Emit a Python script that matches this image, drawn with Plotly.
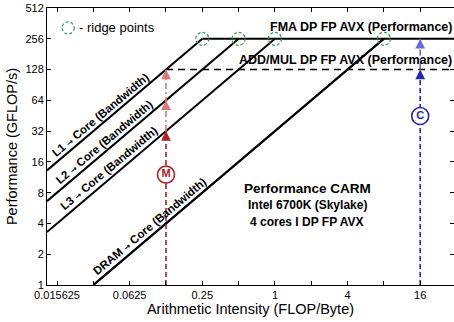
import math
import plotly.graph_objects as go

# ---- data ----
peak_fma = 256.0
peak_addmul = 128.0
bw_names = ["L1", "L2", "L3", "DRAM"]
bandwidths = [1024.0, 512.0, 256.0, 32.0]       # GB/s (slope of the roofs)
label_x = [0.037, 0.040, 0.044, 0.096]           # where the bandwidth labels sit
x_min, x_max = 0.0129, 30.5
y_min, y_max = 1.0, 512.0
x_tickvals = [2.0 ** k for k in range(-6, 5)]
x_ticktext = ["0.015625", "", "0.0625", "", "0.25", "", "1", "", "4", "", "16"]
y_tickvals = [2.0 ** k for k in range(0, 10)]
y_ticktext = [str(int(v)) for v in y_tickvals]
m_x, m_circle_y, m_arrow_ys = 0.125, 12.0, [32.0, 64.0, 128.0]
c_x, c_circle_y, c_arrow_ys = 16.0, 45.0, [128.0, 256.0]

FONT = "Liberation Sans Narrow, Arial Narrow, Liberation Sans, Arial, sans-serif"
REG = "Liberation Sans, Arial, sans-serif"
DARKRED, LIGHTRED = "#a8232a", "#d9777a"
DARKBLUE, LIGHTBLUE = "#2626b0", "#6b6bd6"
GREEN = "#3a9a5b"

LX0, LX1 = math.log10(x_min), math.log10(x_max)
LY0, LY1 = math.log10(y_min), math.log10(y_max)


def x_dom(v):
    return (math.log10(v) - LX0) / (LX1 - LX0)


def y_dom(v):
    return (math.log10(v) - LY0) / (LY1 - LY0)


fig = go.Figure()

ridges = []
for name, bw in zip(bw_names, bandwidths):
    xr = peak_fma / bw
    ridges.append(xr)
    x0 = max(x_min, y_min / bw)
    fig.add_trace(go.Scatter(x=[x0, xr], y=[bw * x0, peak_fma], mode="lines",
                             line=dict(color="black", width=2), hoverinfo="skip"))

# ADD/MUL roof (dashed)
x_addmul = peak_addmul / bandwidths[0]
fig.add_trace(go.Scatter(x=[x_addmul, x_max], y=[peak_addmul, peak_addmul], mode="lines",
                         line=dict(color="black", width=1.4, dash="7px,5px"), hoverinfo="skip"))
# FMA roof
fig.add_trace(go.Scatter(x=[ridges[0], x_max], y=[peak_fma, peak_fma], mode="lines",
                         line=dict(color="black", width=2), hoverinfo="skip"))
# redraw DRAM on top of dashed roof (as in reference)
fig.add_trace(go.Scatter(x=[y_min / bandwidths[3], ridges[3]], y=[y_min, peak_fma], mode="lines",
                         line=dict(color="black", width=2), hoverinfo="skip"))

# M arrow (memory bound)
fig.add_trace(go.Scatter(x=[m_x, m_x], y=[y_min, m_arrow_ys[0]], mode="lines",
                         line=dict(color=DARKRED, width=1.6, dash="5px,3px"), hoverinfo="skip"))
fig.add_trace(go.Scatter(x=[m_x, m_x], y=[m_arrow_ys[0], m_arrow_ys[-1]], mode="lines",
                         line=dict(color=LIGHTRED, width=1.6, dash="6px,3px,2px,3px"), hoverinfo="skip"))
# C arrow (compute bound)
fig.add_trace(go.Scatter(x=[c_x, c_x], y=[y_min, c_arrow_ys[0]], mode="lines",
                         line=dict(color=DARKBLUE, width=1.6, dash="5px,3px"), hoverinfo="skip"))
fig.add_trace(go.Scatter(x=[c_x, c_x], y=[c_arrow_ys[0], c_arrow_ys[-1]], mode="lines",
                         line=dict(color=LIGHTBLUE, width=1.6, dash="6px,3px,2px,3px"), hoverinfo="skip"))

# circles M and C
fig.add_trace(go.Scatter(x=[m_x], y=[m_circle_y], mode="markers+text", text=["<b>M</b>"],
                         textposition="middle center",
                         textfont=dict(color=DARKRED, size=11, family=FONT),
                         marker=dict(size=17, color="white", line=dict(color=DARKRED, width=1.6)),
                         hoverinfo="skip"))
fig.add_trace(go.Scatter(x=[c_x], y=[c_circle_y], mode="markers+text", text=["<b>C</b>"],
                         textposition="middle center",
                         textfont=dict(color=DARKBLUE, size=11, family=FONT),
                         marker=dict(size=17, color="white", line=dict(color=DARKBLUE, width=1.6)),
                         hoverinfo="skip"))

annotations = []
# arrow heads
for i, yv in enumerate(m_arrow_ys):
    col = DARKRED if i == 0 else LIGHTRED
    annotations.append(dict(x=math.log10(m_x), y=math.log10(yv), text="", showarrow=True,
                            ax=0, ay=9, arrowhead=2, arrowsize=1.3, arrowwidth=1.5,
                            arrowcolor=col, standoff=0))
for i, yv in enumerate(c_arrow_ys):
    col = DARKBLUE if i == 0 else LIGHTBLUE
    annotations.append(dict(x=math.log10(c_x), y=math.log10(yv), text="", showarrow=True,
                            ax=0, ay=9, arrowhead=2, arrowsize=1.3, arrowwidth=1.5,
                            arrowcolor=col, standoff=0))

# bandwidth labels
ARROW = '<span style="font-family:DejaVu Sans;font-size:8px">→</span>'
for name, bw, lx in zip(bw_names, bandwidths, label_x):
    annotations.append(dict(x=math.log10(lx), y=math.log10(bw * lx),
                            text="<b>%s %s Core (Bandwidth)</b>" % (name, ARROW),
                            textangle=-40, showarrow=False, yshift=9, xshift=-2,
                            font=dict(family=FONT, size=11.5, color="black")))

# roof labels
annotations.append(dict(x=1.0, xref="paper", y=math.log10(peak_fma), yshift=12, xanchor="right",
                        yanchor="middle",
                        text="<b>FMA DP FP AVX (Performance)</b>", showarrow=False,
                        font=dict(family=FONT, size=12.5, color="black")))
annotations.append(dict(x=1.0, xref="paper", y=math.log10(peak_addmul), yshift=10, xanchor="right",
                        yanchor="middle",
                        text="<b>ADD/MUL DP FP AVX (Performance)</b>", showarrow=False,
                        font=dict(family=FONT, size=12.5, color="black")))

# info block
annotations.append(dict(x=0.639, y=0.347, xref="paper", yref="paper", showarrow=False,
                        xanchor="center", yanchor="middle",
                        text="<b>Performance CARM</b>", font=dict(family=FONT, size=13.5, color="black")))
annotations.append(dict(x=0.639, y=0.289, xref="paper", yref="paper", showarrow=False,
                        xanchor="center", yanchor="middle",
                        text="<b>Intel 6700K (Skylake)</b>", font=dict(family=FONT, size=12, color="black")))
annotations.append(dict(x=0.639, y=0.227, xref="paper", yref="paper", showarrow=False,
                        xanchor="center", yanchor="middle",
                        text="<b>4 cores I DP FP AVX</b>", font=dict(family=FONT, size=12, color="black")))

# legend text
annotations.append(dict(x=0.074, y=0.928, xref="paper", yref="paper", xanchor="left", yanchor="middle",
                        showarrow=False,
                        text="- ridge points", font=dict(family=REG, size=13, color="black")))

shapes = []
for xr in ridges:
    shapes.append(dict(type="circle", xref="x domain", yref="y domain",
                       xsizemode="pixel", ysizemode="pixel",
                       xanchor=x_dom(xr), yanchor=y_dom(peak_fma), layer="above",
                       x0=-6.5, x1=6.5, y0=-6.5, y1=6.5,
                       line=dict(color=GREEN, width=1.3, dash="3px,2px")))
shapes.append(dict(type="circle", xref="paper", yref="paper", xsizemode="pixel", ysizemode="pixel",
                   xanchor=0.052, yanchor=0.928, x0=-6, x1=6, y0=-6, y1=6,
                   line=dict(color=GREEN, width=1.2, dash="3px,2px")))

fig.update_layout(
    width=454, height=322, margin=dict(l=47, r=0, t=8, b=37),
    paper_bgcolor="white", plot_bgcolor="white", showlegend=False,
    annotations=annotations, shapes=shapes,
    font=dict(family=REG, color="black"),
)
fig.update_xaxes(type="log", range=[LX0, LX1],
                 tickvals=x_tickvals, ticktext=x_ticktext, ticks="inside", ticklen=4,
                 tickcolor="black", showgrid=False, zeroline=False,
                 showline=True, linecolor="black", linewidth=1, mirror="ticks",
                 tickfont=dict(family=REG, size=11, color="black"),
                 title=dict(text="Arithmetic Intensity (FLOP/Byte)", standoff=2,
                            font=dict(family=REG, size=14.5, color="black")))
fig.update_yaxes(type="log", range=[LY0, LY1],
                 tickvals=y_tickvals, ticktext=y_ticktext, ticks="inside", ticklen=4,
                 tickcolor="black", showgrid=False, zeroline=False,
                 showline=True, linecolor="black", linewidth=1, mirror="ticks",
                 tickfont=dict(family=REG, size=11, color="black"),
                 title=dict(text="Performance (GFLOP/s)", standoff=4,
                            font=dict(family=REG, size=14.5, color="black")))

fig.write_html("out.html")
